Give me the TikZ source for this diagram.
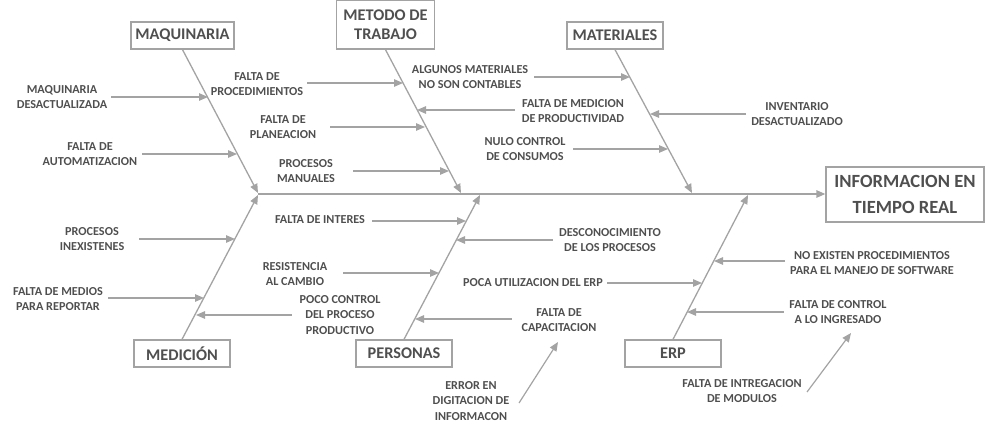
\documentclass[tikz,border=0pt]{standalone}
\usepackage{fontspec}
\setmainfont{Carlito}
\usetikzlibrary{arrows.meta}
\definecolor{linegray}{HTML}{A3A3A3}
\definecolor{textgray}{HTML}{4F4F4F}
\begin{document}
\begin{tikzpicture}[x=1pt,y=-1pt,
  catbox/.style={draw=linegray,line width=1.3pt,fill=white,text=textgray,
    font=\fontsize{16.3}{19}\selectfont\bfseries,inner sep=0pt,align=center,
    minimum height=27pt},
  effectbox/.style={catbox,font=\fontsize{18.6}{26}\selectfont\bfseries},
  cause/.style={text=textgray,font=\fontsize{12.2}{15.5}\selectfont\bfseries,
    align=center,inner sep=0pt},
  bone/.style={draw=linegray,line width=1.3pt,-{Triangle[length=9pt,width=7.5pt]}},
  branch/.style={draw=linegray,line width=1.2pt,-{Triangle[length=9pt,width=7.5pt]}}]
\useasboundingbox (0,0) rectangle (987,423);

% category boxes
\node[catbox,minimum width=103pt] (maq) at (182.5,35.5) {MAQUINARIA};
\node[catbox,minimum width=98pt,minimum height=48.5pt] (met) at (385.5,24.8) {METODO DE\\TRABAJO};
\node[catbox,minimum width=96pt] (mat) at (615,35.5) {MATERIALES};
\node[catbox,minimum width=96pt] (med) at (182,353.5) {MEDICIÓN};
\node[catbox,minimum width=96pt] (per) at (404,353.5) {PERSONAS};
\node[catbox,minimum width=96pt] (erp) at (673,353.5) {ERP};
\node[effectbox,minimum width=158pt,minimum height=55pt] (eff) at (905,194.5) {INFORMACION EN\\TIEMPO REAL};

% spine and main bones
\coordinate (spL) at (258,194);
\draw[bone] (spL) -- (eff.west |- spL);
\coordinate (maqE) at (258,193);
\coordinate (metE) at (461,193);
\coordinate (matE) at (692,193);
\coordinate (medE) at (258,195);
\coordinate (perE) at (480,195);
\coordinate (erpE) at (748,195);
\draw[bone] (maq.south) -- (maqE);
\draw[bone] (met.south) -- (metE);
\draw[bone] (mat.south) -- (matE);
\draw[bone] (med.north) -- (medE);
\draw[bone] (per.north) -- (perE);
\draw[bone] (erp.north) -- (erpE);

% causes: MAQUINARIA
\node[cause] (c1) at (62,97) {MAQUINARIA\\DESACTUALIZADA};
\node[cause] (c2) at (90,154) {FALTA DE\\AUTOMATIZACION};
\coordinate (s1) at (111,97);  \coordinate (e1) at (208,97);
\coordinate (s2) at (142,154); \coordinate (e2) at (237,154);
\draw[branch] (s1) -- (e1);
\draw[branch] (s2) -- (e2);

% causes: METODO DE TRABAJO
\node[cause] (c3) at (257,84) {FALTA DE\\PROCEDIMIENTOS};
\node[cause] (c4) at (283,127) {FALTA DE\\PLANEACION};
\node[cause] (c5) at (306,171) {PROCESOS\\MANUALES};
\node[cause] (c6) at (573,111) {FALTA DE MEDICION\\DE PRODUCTIVIDAD};
\coordinate (s3) at (307,83);  \coordinate (e3) at (403,83);
\coordinate (s4) at (330,127); \coordinate (e4) at (425,127);
\coordinate (s5) at (353,171); \coordinate (e5) at (449,171);
\coordinate (s6) at (515,110); \coordinate (e6) at (417,110);
\draw[branch] (s3) -- (e3);
\draw[branch] (s4) -- (e4);
\draw[branch] (s5) -- (e5);
\draw[branch] (s6) -- (e6);

% causes: MATERIALES
\node[cause] (c7) at (470,77) {ALGUNOS MATERIALES\\NO SON CONTABLES};
\node[cause] (c8) at (525,149) {NULO CONTROL\\DE CONSUMOS};
\node[cause] (c9) at (797,114) {INVENTARIO\\DESACTUALIZADO};
\coordinate (s7) at (534,77);  \coordinate (e7) at (630,77);
\coordinate (s8) at (573,149); \coordinate (e8) at (668,149);
\coordinate (s9) at (746,114); \coordinate (e9) at (650,114);
\draw[branch] (s7) -- (e7);
\draw[branch] (s8) -- (e8);
\draw[branch] (s9) -- (e9);

% causes: MEDICION
\node[cause] (c10) at (92,239) {PROCESOS\\INEXISTENES};
\node[cause] (c11) at (58,299) {FALTA DE MEDIOS\\PARA REPORTAR};
\node[cause] (c12) at (340,315) {POCO CONTROL\\DEL PROCESO\\PRODUCTIVO};
\coordinate (s10) at (139,239); \coordinate (e10) at (235,239);
\coordinate (s11) at (108,298); \coordinate (e11) at (204,298);
\coordinate (s12) at (292,315); \coordinate (e12) at (196,315);
\draw[branch] (s10) -- (e10);
\draw[branch] (s11) -- (e11);
\draw[branch] (s12) -- (e12);

% causes: PERSONAS
\node[cause] (c13) at (320,220) {FALTA DE INTERES};
\node[cause] (c14) at (610,240) {DESCONOCIMIENTO\\DE LOS PROCESOS};
\node[cause] (c15) at (295,274) {RESISTENCIA\\AL CAMBIO};
\node[cause] (c16) at (559,320) {FALTA DE\\CAPACITACION};
\node[cause] (c17) at (471,401) {ERROR EN\\DIGITACION DE\\INFORMACON};
\coordinate (s13) at (372,221); \coordinate (e13) at (466,221);
\coordinate (s14) at (553,240); \coordinate (e14) at (456,240);
\coordinate (s15) at (343,273); \coordinate (e15) at (439,273);
\coordinate (s16) at (512,319); \coordinate (e16) at (415,319);
\coordinate (s17) at (519,403); \coordinate (e17) at (558,342);
\draw[branch] (s13) -- (e13);
\draw[branch] (s14) -- (e14);
\draw[branch] (s15) -- (e15);
\draw[branch] (s16) -- (e16);
\draw[branch] (s17) -- (e17);

% causes: ERP
\node[cause] (c18) at (533,283) {POCA UTILIZACION DEL ERP};
\node[cause] (c19) at (872,263) {NO EXISTEN PROCEDIMIENTOS\\PARA EL MANEJO DE SOFTWARE};
\node[cause] (c20) at (838,312) {FALTA DE CONTROL\\A LO INGRESADO};
\node[cause] (c21) at (742,391) {FALTA DE INTREGACION\\DE MODULOS};
\coordinate (s18) at (607,283); \coordinate (e18) at (702,283);
\coordinate (s19) at (785,261); \coordinate (e19) at (714,261);
\coordinate (s20) at (784,312); \coordinate (e20) at (687,312);
\coordinate (s21) at (807,392); \coordinate (e21) at (851,333);
\draw[branch] (s18) -- (e18);
\draw[branch] (s19) -- (e19);
\draw[branch] (s20) -- (e20);
\draw[branch] (s21) -- (e21);
\end{tikzpicture}
\end{document}
